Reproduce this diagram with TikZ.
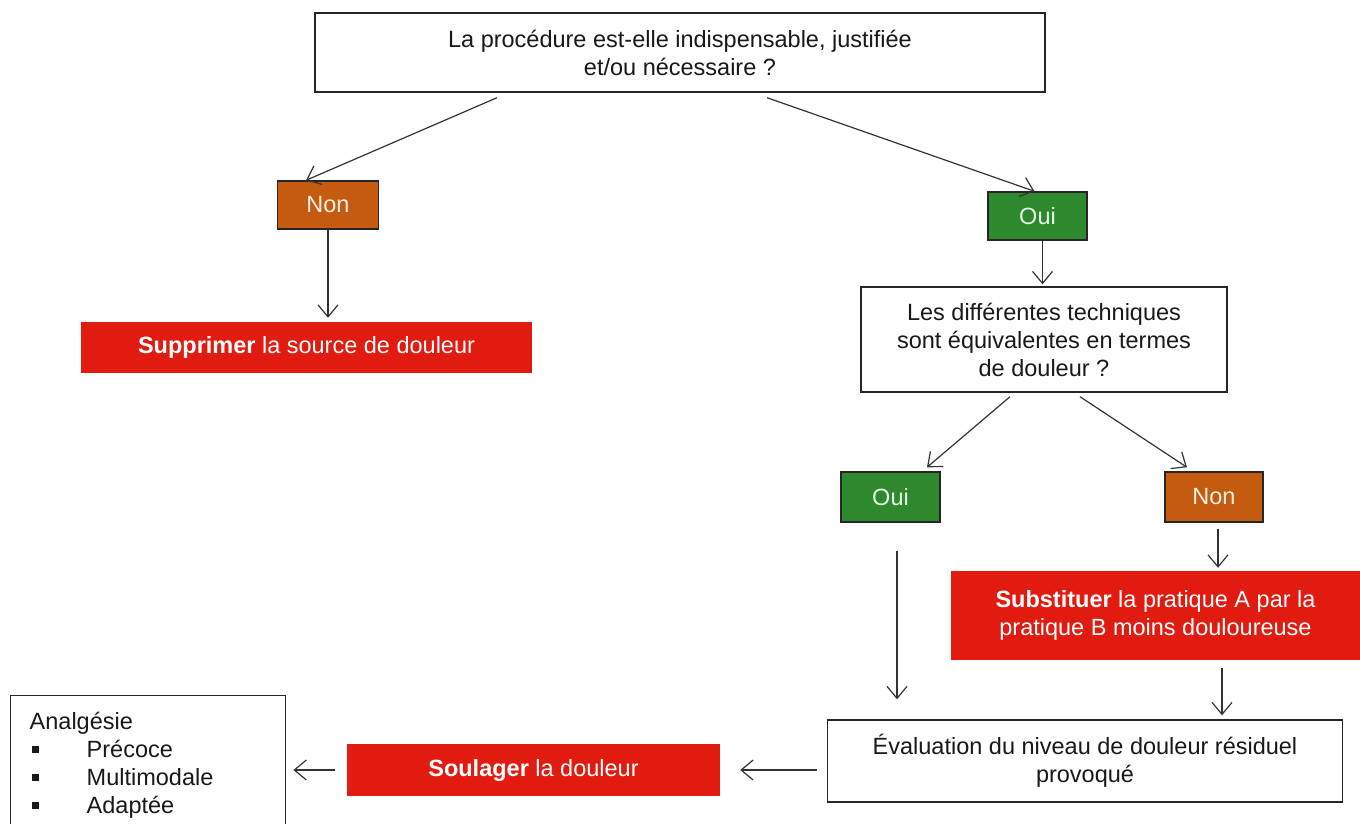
\documentclass[tikz,border=0pt]{standalone}
\usepackage{fontspec}
\setmainfont{Liberation Sans}
\usetikzlibrary{arrows.meta}

\definecolor{nonorange}{RGB}{197,90,17}
\definecolor{ouigreen}{RGB}{46,136,46}
\definecolor{actred}{RGB}{226,27,16}
\newcommand{\sqbullet}{\makebox[57pt][l]{\hspace{2pt}\rule[4pt]{7pt}{7pt}}}

\begin{document}
\begin{tikzpicture}[x=1pt,y=-1pt,
    every node/.style={font={\fontsize{23.5}{28}\selectfont}},
    qbox/.style={draw=black!85,line width=1.4pt,fill=white,text=black!90,align=center,inner sep=0pt},
    nonbox/.style={draw=black!85,line width=1.4pt,fill=nonorange,text=orange!10,inner sep=0pt},
    ouibox/.style={draw=black!85,line width=1.4pt,fill=ouigreen,text=green!10,inner sep=0pt},
    actbox/.style={fill=actred,text=white,align=center,inner sep=0pt},
    arr/.style={draw=black!80,line width=1.2pt,-{Straight Barb[length=12pt,width=20pt]}}]
    \useasboundingbox (0,0) rectangle (1360,823);

    % questions
    \node[qbox,minimum width=730pt,minimum height=79pt] (top) at (680,52.5)
        {La procédure est-elle indispensable, justifiée\\et/ou nécessaire ?};
    \node[qbox,minimum width=366pt,minimum height=105pt] (tech) at (1044,339.5)
        {Les différentes techniques\\sont équivalentes en termes\\de douleur ?};
    \node[qbox,minimum width=515pt,minimum height=82pt] (eval) at (1085,761)
        {Évaluation du niveau de douleur résiduel\\provoqué};

    % answers
    \node[nonbox,minimum width=101pt,minimum height=48pt] (nonA) at (328,205) {Non};
    \node[ouibox,minimum width=99pt,minimum height=48pt] (ouiA) at (1037.5,216) {Oui};
    \node[ouibox,minimum width=99pt,minimum height=50pt] (ouiB) at (890.5,497) {Oui};
    \node[nonbox,minimum width=98pt,minimum height=50pt] (nonB) at (1214,497) {Non};

    % actions
    \node[actbox,minimum width=451pt,minimum height=51pt] (supp) at (306.5,347.5)
        {\textbf{Supprimer} la source de douleur};
    \node[actbox,minimum width=409pt,minimum height=89pt] (subst) at (1155.5,615.5)
        {\textbf{Substituer} la pratique A par la\\pratique B moins douloureuse};
    \node[actbox,minimum width=373pt,minimum height=52pt] (soul) at (533.5,770)
        {\textbf{Soulager} la douleur};
    \node[qbox,anchor=north west,align=left,text width=237pt,inner xsep=19pt,inner ysep=16pt] (analg) at (10,695)
        {Analgésie\\\sqbullet Précoce\\\sqbullet Multimodale\\\sqbullet Adaptée};

    % connectors
    \draw[arr] ([xshift=-183pt,yshift=-5pt]top.south) -- ([xshift=-22pt]nonA.north);
    \draw[arr] ([xshift=87pt,yshift=-5pt]top.south) -- ([xshift=-3pt]ouiA.north);
    \draw[arr,shorten >=4pt] (nonA.south) -- (nonA.south |- supp.north);
    \draw[arr,shorten >=2pt] ([xshift=5pt]ouiA.south) -- ([xshift=5pt]ouiA.south |- tech.north);
    \draw[arr] ([xshift=-34pt,yshift=-4pt]tech.south) -- ([xshift=36.5pt,yshift=4pt]ouiB.north);
    \draw[arr] ([xshift=36pt,yshift=-4pt]tech.south) -- ([xshift=-27pt,yshift=4pt]nonB.north);
    \draw[arr,shorten >=3pt] ([xshift=4pt,yshift=-6pt]nonB.south) -- ([xshift=4pt]nonB.south |- subst.north);
    \draw[arr,shorten >=20pt] ([xshift=6.5pt,yshift=-28pt]ouiB.south) -- ([xshift=6.5pt]ouiB.south |- eval.north);
    \draw[arr,shorten >=4pt] ([xshift=66.5pt,yshift=-8pt]subst.south) -- ([xshift=66.5pt]subst.south |- eval.north);
    \draw[arr,shorten <=10pt,shorten >=20pt] (eval.west |- soul.east) -- (soul.east);
    \draw[arr,shorten <=12pt,shorten >=7pt] (soul.west) -- (soul.west -| analg.east);
\end{tikzpicture}
\end{document}
